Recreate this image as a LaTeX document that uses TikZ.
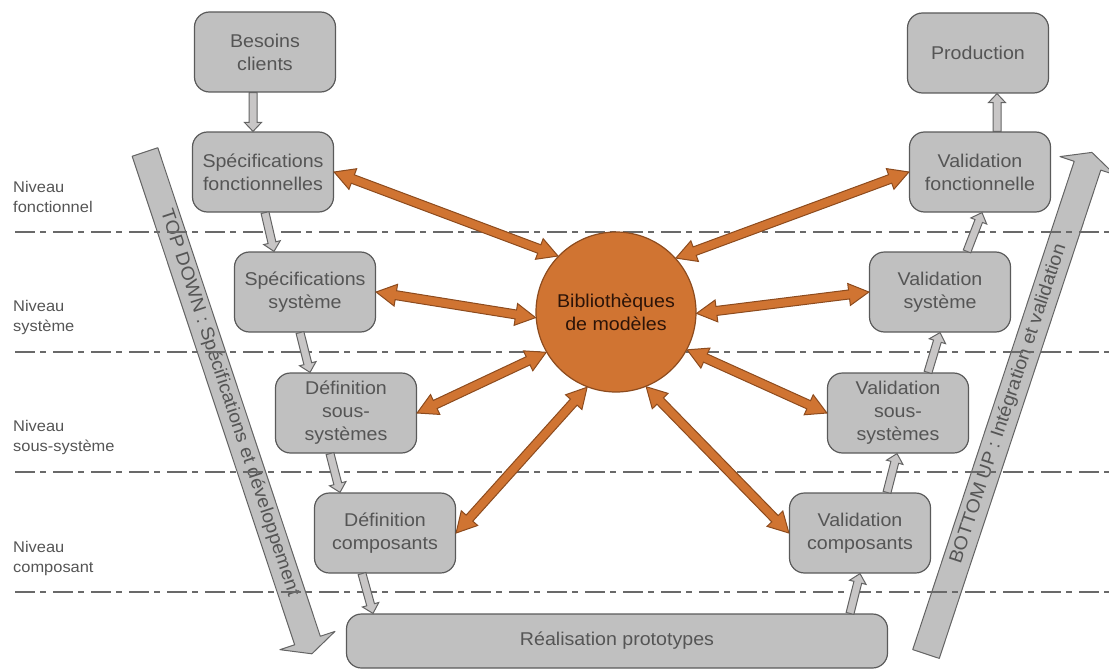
\documentclass[tikz,border=0pt]{standalone}
\usepackage{fontspec}
\setmainfont{Liberation Sans}[FakeStretch=1.06]
\usetikzlibrary{calc}
\definecolor{boxfill}{RGB}{192,192,192}
\definecolor{boxdraw}{RGB}{90,90,90}
\definecolor{textgray}{RGB}{85,85,85}
\definecolor{orfill}{RGB}{208,116,50}
\definecolor{ordraw}{RGB}{140,75,30}
\definecolor{dashgray}{RGB}{105,105,105}
\definecolor{arrfill}{RGB}{200,198,198}
\definecolor{arrdraw}{RGB}{100,100,100}
\definecolor{bibtext}{RGB}{45,20,8}

% single block arrow: style, from, to, half shaft, half head, head length
\newcommand\blockarrow[6]{%
  \path[#1] let \p1=($(#3)-(#2)$), \n1={atan2(\y1,\x1)} in
    ($(#2)+(\n1+90:#4)$) -- ($(#3)+(\n1+180:#6)+(\n1+90:#4)$) --
    ($(#3)+(\n1+180:#6)+(\n1+90:#5)$) -- (#3) --
    ($(#3)+(\n1+180:#6)+(\n1-90:#5)$) -- ($(#3)+(\n1+180:#6)+(\n1-90:#4)$) --
    ($(#2)+(\n1-90:#4)$) -- cycle;}
% double block arrow
\newcommand\dblblockarrow[6]{%
  \path[#1] let \p1=($(#3)-(#2)$), \n1={atan2(\y1,\x1)} in
    (#2) -- ($(#2)+(\n1:#6)+(\n1+90:#5)$) -- ($(#2)+(\n1:#6)+(\n1+90:#4)$) --
    ($(#3)+(\n1+180:#6)+(\n1+90:#4)$) -- ($(#3)+(\n1+180:#6)+(\n1+90:#5)$) --
    (#3) --
    ($(#3)+(\n1+180:#6)+(\n1-90:#5)$) -- ($(#3)+(\n1+180:#6)+(\n1-90:#4)$) --
    ($(#2)+(\n1:#6)+(\n1-90:#4)$) -- ($(#2)+(\n1:#6)+(\n1-90:#5)$) -- cycle;}

\tikzset{
  box/.style={draw=boxdraw, fill=boxfill, line width=1.2pt, rounded corners=15pt,
    minimum width=141pt, minimum height=80pt, inner sep=0pt, align=center,
    text=textgray, font=\fontsize{18.5}{23}\selectfont},
  bib/.style={circle, draw=ordraw, fill=orfill, line width=1.2pt, minimum size=160pt,
    inner sep=0pt, align=center, text=bibtext, font=\fontsize{18.5}{23}\selectfont},
  lvl/.style={anchor=west, align=left, inner sep=0pt, text=textgray,
    font=\fontsize{15.5}{20}\selectfont},
  bigarrow/.style={draw=arrdraw, fill=boxfill, line width=1pt, line join=round},
  bigtext/.style={inner sep=0pt, text=textgray, font=\fontsize{18.5}{23}\selectfont},
  grayarrow/.style={draw=arrdraw, fill=arrfill, line width=1pt},
  orarrow/.style={draw=ordraw, fill=orfill, line width=1pt},
  levelline/.style={draw=dashgray, line width=1.6pt, dash pattern=on 20pt off 5pt on 6pt off 7pt}
}

\begin{document}
\begin{tikzpicture}[x=1pt,y=-1pt]
\useasboundingbox (0,0) rectangle (1109,669);

% big arrows
\coordinate (td1) at (145,152);
\coordinate (td2) at (311.9,653.8);
\coordinate (bu1) at (926,654);
\coordinate (bu2) at (1091.9,152.4);
\blockarrow{bigarrow}{td1}{td2}{13.5pt}{29pt}{14pt}
\blockarrow{bigarrow}{bu1}{bu2}{14pt}{29pt}{14pt}
\node[bigtext, rotate=-71.6] (tdtext) at (229.5,403) {TOP DOWN : Spécifications et développement};
\node[bigtext, rotate=71.7] (butext) at (1008.5,404) {BOTTOM UP : Intégration et validation};

% level lines
\foreach \yy [count=\i] in {232,352,472,592} {
  \coordinate (dl\i) at (15,\yy);
  \coordinate (dr\i) at (1109,\yy);
  \draw[levelline] (dl\i) -- (dr\i);
}

% level labels
\node[lvl] (lvf) at (13,197) {Niveau\\fonctionnel};
\node[lvl] (lvs) at (13,317) {Niveau\\système};
\node[lvl] (lvss) at (13,437) {Niveau\\sous-système};
\node[lvl] (lvc) at (13,558) {Niveau\\composant};

% boxes
\node[box] (besoins) at (265,52) {Besoins\\clients};
\node[box] (specf) at (263,172) {Spécifications\\fonctionnelles};
\node[box] (specs) at (305,292) {Spécifications\\système};
\node[box] (defss) at (346,413) {Définition\\sous-\\systèmes};
\node[box] (defc) at (385,533) {Définition\\composants};
\node[box, minimum width=541pt, minimum height=54pt] (real) at (617,641) {Réalisation prototypes};
\node[box] (prod) at (978,53) {Production};
\node[box] (valf) at (980,172) {Validation\\fonctionnelle};
\node[box] (vals) at (940,292) {Validation\\système};
\node[box] (valss) at (898,413) {Validation\\sous-\\systèmes};
\node[box] (valc) at (860,533) {Validation\\composants};
\node[bib] (bib) at (616,312) {Bibliothèques\\de modèles};

% gray flow arrows
\coordinate (g1a) at ([xshift=-12pt]besoins.south);
\coordinate (g1b) at ([xshift=-10pt]specf.north);
\coordinate (g2a) at ([xshift=2pt]specf.south);
\coordinate (g2b) at ([xshift=-31pt]specs.north);
\coordinate (g3a) at ([xshift=-5pt]specs.south);
\coordinate (g3b) at ([xshift=-36pt]defss.north);
\coordinate (g4a) at ([xshift=-16pt]defss.south);
\coordinate (g4b) at ([xshift=-45pt]defc.north);
\coordinate (g5a) at ([xshift=-23pt]defc.south);
\coordinate (g5b) at ([xshift=-244pt]real.north);
\coordinate (g6a) at ([xshift=233pt]real.north);
\coordinate (g6b) at ([xshift=0pt]valc.south);
\coordinate (g7a) at ([xshift=27pt]valc.north);
\coordinate (g7b) at ([xshift=-1pt]valss.south);
\coordinate (g8a) at ([xshift=30pt]valss.north);
\coordinate (g8b) at ([xshift=0pt]vals.south);
\coordinate (g9a) at ([xshift=27pt]vals.north);
\coordinate (g9b) at ([xshift=2pt]valf.south);
\coordinate (g10a) at ([xshift=17pt]valf.north);
\coordinate (g10b) at ([xshift=19pt]prod.south);
\foreach \k in {1,...,10} {
  \blockarrow{grayarrow}{g\k a}{g\k b}{4pt}{8.5pt}{9pt}
}

% orange double arrows
\dblblockarrow{orarrow}{specf.east}{bib.136}{4.5pt}{11pt}{20pt}
\dblblockarrow{orarrow}{specs.east}{bib.184}{4.5pt}{11pt}{20pt}
\dblblockarrow{orarrow}{defss.east}{bib.210}{4.5pt}{11pt}{20pt}
\dblblockarrow{orarrow}{defc.east}{bib.249}{4.5pt}{11pt}{20pt}
\dblblockarrow{orarrow}{valc.west}{bib.292}{4.5pt}{11pt}{20pt}
\dblblockarrow{orarrow}{valss.west}{bib.332}{4.5pt}{11pt}{20pt}
\dblblockarrow{orarrow}{vals.west}{bib.359}{4.5pt}{11pt}{20pt}
\dblblockarrow{orarrow}{valf.west}{bib.42}{4.5pt}{11pt}{20pt}
\end{tikzpicture}
\end{document}
